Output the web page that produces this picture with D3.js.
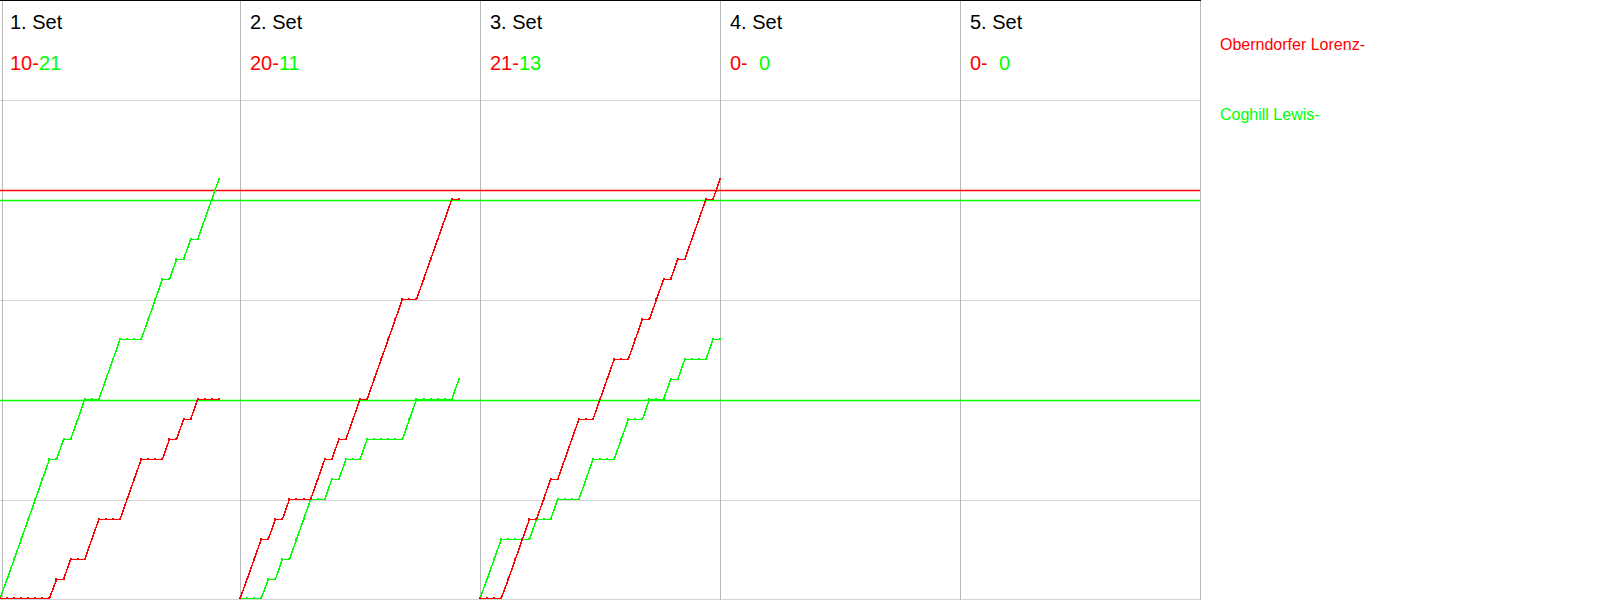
<!DOCTYPE html>
<html>
<head>
<meta charset="utf-8">
<script src="https://cdn.jsdelivr.net/npm/d3@7"></script>
<style>
  html, body { margin: 0; padding: 0; background: #fff; }
  svg { display: block; font-family: "Liberation Sans", Arial, sans-serif; }
</style>
</head>
<body>
<svg id="chart" width="1600" height="600"></svg>
<script>
// ---- data ----
const setLabels = ["1. Set", "2. Set", "3. Set", "4. Set", "5. Set"];
const players = ["Oberndorfer Lorenz-", "Coghill Lewis-"];
const redFinal = [10, 20, 21, 0, 0];
const greenFinal = [21, 11, 13, 0, 0];

// cumulative score after each rally (index 0 = start of set)
const redSet1 = [0,0,0,0,0,0,0,0,1,1,2,2,2,3,4,4,4,4,5,6,7,7,7,7,8,8,9,9,10,10,10,10];
const greenSet1 = [0,1,2,3,4,5,6,7,7,8,8,9,10,10,10,11,12,13,13,13,13,14,15,16,16,17,17,18,18,19,20,21];
const redSet2 = [0,1,2,3,3,4,4,5,5,5,5,6,7,7,8,8,9,10,10,11,12,13,14,15,15,15,16,17,18,19,20,20];
const greenSet2 = [0,0,0,0,1,1,2,2,3,4,5,5,5,6,6,7,7,7,8,8,8,8,8,8,9,10,10,10,10,10,10,11];
const redSet3 = [0,0,0,0,1,2,3,4,4,5,6,6,7,8,9,9,9,10,11,12,12,12,13,14,14,15,16,16,17,17,18,19,20,20,21];
const greenSet3 = [0,1,2,3,3,3,3,3,4,4,4,5,5,5,5,6,7,7,7,7,8,9,9,9,10,10,10,11,11,12,12,12,12,13,13];
const redSets = [redSet1, redSet2, redSet3, [], []];
const greenSets = [greenSet1, greenSet2, greenSet3, [], []];

const gridValues = [0, 5, 10, 15, 20, 25];
const redRefs = [20.5];
const greenRefs = [10, 20];

const RED = "#ff0000", GREEN = "#00ff00";

// ---- layout ----
const svg = d3.select("#chart");
const plotLeft = 0, plotRight = 1200, plotTop = 100, plotBottom = 600;

const panel = d3.scaleBand().domain(setLabels).range([plotLeft, plotRight]).padding(0);
const y = d3.scaleLinear().domain([0, 25]).range([plotBottom, plotTop]);
const maxRallies = 34;

// horizontal grid
svg.append("g").selectAll("line").data(gridValues).join("line")
  .attr("x1", plotLeft).attr("x2", plotRight)
  .attr("y1", d => Math.min(599.5, Math.round(y(d)) + 0.5))
  .attr("y2", d => Math.min(599.5, Math.round(y(d)) + 0.5))
  .attr("stroke", "#d4d4d4").attr("stroke-width", 1)
  .attr("shape-rendering", "crispEdges");

// vertical separators
const seps = setLabels.map(s => panel(s)).concat([plotRight]);
svg.append("g").selectAll("line").data(seps).join("line")
  .attr("x1", d => d === 0 ? 2.5 : d + 0.5).attr("x2", d => d === 0 ? 2.5 : d + 0.5)
  .attr("y1", 0).attr("y2", plotBottom)
  .attr("stroke", "#b8b8b8").attr("stroke-width", 1)
  .attr("shape-rendering", "crispEdges");

// top border
svg.append("line").attr("x1", 0).attr("x2", plotRight + 1).attr("y1", 0.5).attr("y2", 0.5)
  .attr("stroke", "#000").attr("stroke-width", 1.5).attr("shape-rendering", "crispEdges");

// reference lines
svg.append("g").selectAll("line").data(redRefs).join("line")
  .attr("x1", plotLeft).attr("x2", plotRight)
  .attr("y1", d => Math.round(y(d)) + 0.5).attr("y2", d => Math.round(y(d)) + 0.5)
  .attr("stroke", RED).attr("stroke-width", 1.3);
svg.append("g").selectAll("line").data(greenRefs).join("line")
  .attr("x1", plotLeft).attr("x2", plotRight)
  .attr("y1", d => Math.round(y(d)) + 0.5).attr("y2", d => Math.round(y(d)) + 0.5)
  .attr("stroke", GREEN).attr("stroke-width", 1.3);

// series
setLabels.forEach((label, i) => {
  const p0 = panel(label);
  const x = d3.scaleLinear().domain([0, maxRallies]).range([p0, p0 + panel.bandwidth()]);
  const line = d3.line().x((d, k) => x(k)).y(d => Math.min(598.5, y(d) - 0.5));
  const g = svg.append("g");
  [[greenSets[i], GREEN], [redSets[i], RED]].forEach(([data, color]) => {
    if (!data.length) return;
    g.append("path").datum(data).attr("d", line)
      .attr("fill", "none").attr("stroke", color).attr("stroke-width", 1.5)
      .attr("shape-rendering", "crispEdges");
    g.selectAll(null).data(data).join("rect")
      .attr("x", (d, k) => Math.round(x(k)) - 1)
      .attr("y", d => Math.min(597, Math.round(y(d)) - 2))
      .attr("width", 2).attr("height", 2)
      .attr("fill", color);
  });

  // header texts
  svg.append("text").attr("x", p0 + 10).attr("y", 29)
    .attr("font-size", 20).attr("fill", "#000").text(label);
  const t = svg.append("text").attr("x", p0 + 10).attr("y", 70).attr("font-size", 20);
  t.append("tspan").attr("fill", RED).text(redFinal[i] + "-");
  const gs = String(greenFinal[i]);
  t.append("tspan").attr("fill", GREEN).text((gs.length < 2 ? "\u2007" : "") + gs);
});

// legend
svg.append("g").selectAll("text").data(players).join("text")
  .attr("x", 1220).attr("y", (d, i) => 50 + i * 70)
  .attr("font-size", 16)
  .attr("fill", (d, i) => i === 0 ? RED : GREEN)
  .text(d => d);
</script>
</body>
</html>
